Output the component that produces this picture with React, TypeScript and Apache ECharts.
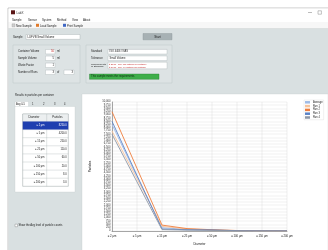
import React, { useEffect, useRef } from 'react';
import * as echarts from 'echarts';

const diameters = ['≥ 2 µm', '≥ 5 µm', '≥ 15 µm', '≥ 25 µm', '≥ 50 µm', '≥ 100 µm', '≥ 150 µm', '≥ 200 µm'];
const seriesNames = ['Average', 'Run 1', 'Run 2', 'Run 3', 'Run 4'];
const average = [8250, 4200, 250, 110, 60, 20, 8, 3];
const run1 = [7750, 4050, 350, 150, 70, 25, 10, 3];
const run2 = [9250, 4850, 450, 180, 90, 30, 15, 5];
const run3 = [8500, 4300, 150, 90, 80, 15, 6, 2];
const run4 = [7500, 3800, 100, 60, 40, 10, 5, 1];
const seriesColors = ['#9fbbe6', '#f7c39b', '#ee7d3c', '#5b83c6', '#8c96a6'];
const yMax = 10000;
const yInterval = 250;

const menuItems = ['Sample', 'Sensor', 'System', 'Method', 'View', 'About'];
const toolbarItems = ['New Sample', 'Load Sample', 'Print Sample'];
const tabs = ['Avg 0-5', '1', '2', '3', '4'];

const FONT = 'Liberation Sans';
const INK = '#1a1a1a';

function txt(x: number, y: number, text: string, size = 3, fill = INK, align = 'left', extra: any = {}) {
  return {
    type: 'text', x, y, z: 5,
    style: { text, fontSize: size, fontFamily: FONT, fill, align, verticalAlign: 'middle', ...extra },
  };
}
function rect(x: number, y: number, w: number, h: number, fill: string, stroke?: string, lw = 0.4, z = 1) {
  return {
    type: 'rect', z,
    shape: { x, y, width: w, height: h },
    style: { fill, stroke: stroke || null, lineWidth: lw },
  };
}
function line(x1: number, y1: number, x2: number, y2: number, stroke: string, lw = 0.4, z = 2) {
  return { type: 'line', z, shape: { x1, y1, x2, y2 }, style: { stroke, lineWidth: lw } };
}

export default function App() {
  const ref = useRef<HTMLDivElement>(null);
  useEffect(() => {
    if (!ref.current) return;
    const chart = echarts.init(ref.current, null, { renderer: 'svg' });
    const g: any[] = [];
    // page + window
    g.push(rect(0, 0, 328, 250, '#ffffff', undefined, 0, -10));
    g.push(rect(8, 8, 321, 243, '#f7f7f7', '#8d8d8d', 0.5, -9));
    // title bar
    g.push(rect(8.5, 8.5, 320, 8.5, '#ffffff', undefined, 0, -8));
    g.push(rect(11, 10.3, 4, 4, '#5a1515'));
    g.push(txt(16.5, 12.5, 'LabX', 3, '#333'));
    g.push(line(308, 12.5, 312, 12.5, '#555', 0.4));
    g.push(rect(318, 10.8, 3.4, 3.4, 'none', '#555', 0.35));
    // menu bar
    g.push(rect(8.5, 17, 320, 5, '#ffffff', undefined, 0, -8));
    const menuX = [12, 28, 42, 57, 72, 83];
    menuItems.forEach((m, i) => g.push(txt(menuX[i], 19.4, m, 2.8)));
    // toolbar
    g.push(rect(8.5, 22, 320, 6.5, '#f7f7f7', undefined, 0, -8));
    const tbIcon = ['#cfcfcf', '#e07a2a', '#3f67c4'];
    const tbX = [12, 36, 63];
    toolbarItems.forEach((t, i) => {
      g.push(rect(tbX[i], 23.8, 3, 3, tbIcon[i], i === 0 ? '#888' : undefined, 0.3));
      g.push(txt(tbX[i] + 4, 25.3, t, 2.8));
    });
    // body
    g.push(rect(8.5, 28.5, 320, 222, '#d9e0e1', undefined, 0, -8));
    g.push(line(8.5, 28.5, 328, 28.5, '#c9cfd0', 0.4, -7));
    // sample row
    g.push(txt(13, 37, 'Sample', 2.8));
    g.push(rect(26, 34.5, 54, 4.8, '#ffffff', '#9aa3a5', 0.35));
    g.push(txt(27.5, 37, 'LUFVB Small Volume', 2.8));
    g.push(rect(143, 33.5, 29, 6.3, '#a7b1b4', '#8a9597', 0.4));
    g.push(txt(157.5, 36.7, 'Start', 3, INK, 'center'));
    // group box 1
    g.push(rect(13, 45, 67, 38, '#dde3e4', '#b8c1c3', 0.4, 0));
    const g1Labels = ['Container Volume', 'Sample Volume', 'Waste Factor', 'Number of Runs'];
    const g1Vals = ['50', '5', '1', '3'];
    const g1Y = [51.7, 58.3, 65.3, 72.3];
    g1Labels.forEach((l, i) => {
      g.push(txt(18, g1Y[i], l, 2.7));
      g.push(rect(45.5, g1Y[i] - 2.2, 9.5, 4.4, '#ffffff', '#9aa3a5', 0.3));
      g.push(txt(54, g1Y[i], g1Vals[i], 2.7, i === 0 ? '#c02020' : INK, 'right'));
    });
    g.push(txt(57, g1Y[0], 'ml', 2.7));
    g.push(txt(57, g1Y[1], 'ml', 2.7));
    g.push(txt(57, g1Y[3], 'of', 2.7));
    g.push(rect(64, g1Y[3] - 2.2, 10, 4.4, '#ffffff', '#9aa3a5', 0.3));
    g.push(txt(73, g1Y[3], '3', 2.7, INK, 'right'));
    // group box 2
    g.push(rect(86, 45, 86, 38, '#dde3e4', '#b8c1c3', 0.4, 0));
    g.push(txt(91, 51.7, 'Standard', 2.7));
    g.push(rect(108, 49.4, 59, 4.6, '#ffffff', '#9aa3a5', 0.3));
    g.push(txt(109.5, 51.7, 'ISO 4406 / NAS', 2.6));
    g.push(txt(91, 58.3, 'Tolerance', 2.7));
    g.push(rect(108, 56, 59, 4.6, '#ffffff', '#9aa3a5', 0.3));
    g.push(txt(109.5, 58.3, 'Small Volume', 2.6));
    g.push(txt(91, 64, 'Requirements', 2.4));
    g.push(txt(91, 66.8, 'of Standard', 2.4));
    g.push(rect(108, 62.2, 59, 6.6, '#ffffff', '#9aa3a5', 0.3));
    g.push(txt(109, 64, '≥ 25 µm   max. 100 particles per container', 2, '#c02020'));
    g.push(txt(109, 67, '≥ 50 µm   max.  10 particles per container', 2, '#c02020'));
    g.push(rect(89.5, 74, 69.5, 5.3, '#3fae4a', '#2c7d35', 0.4));
    g.push(txt(91, 76.7, 'This sample meets the requirements', 2.7, '#0f2a12'));
    // results panel
    g.push(txt(15, 96, 'Results in particles per container', 2.7));
    g.push(rect(15, 101.5, 13.5, 5.5, '#ffffff', '#b8c1c3', 0.3));
    const tabX = [16, 32, 43, 54, 64];
    tabs.forEach((t, i) => g.push(txt(tabX[i], 104.2, t, 2.6)));
    g.push(rect(15, 106.5, 60, 85.5, '#ffffff', '#c0c8ca', 0.3));
    // table
    const tx = 22.7, tw = 45.6, split = 46.7, top = 114, hh = 7.5, rh = 8.1;
    g.push(rect(tx, top, tw, hh + rh * diameters.length, '#ffffff', '#7f8a8c', 0.4));
    g.push(rect(tx, top, tw, hh, '#eceff0', '#9aa3a5', 0.3));
    g.push(txt(34, top + hh / 2, 'Diameter', 2.7, INK, 'center'));
    g.push(txt(57.5, top + hh / 2, 'Particles', 2.7, INK, 'center'));
    g.push(line(split, top, split, top + hh + rh * diameters.length, '#9aa3a5', 0.3));
    diameters.forEach((d, i) => {
      const y0 = top + hh + rh * i;
      if (i === 0) g.push(rect(tx, y0, tw, rh, '#1f3fb0', undefined, 0, 3));
      else g.push(line(tx, y0, tx + tw, y0, '#9aa3a5', 0.3));
      const col = i === 0 ? '#ffffff' : INK;
      g.push(txt(44.5, y0 + rh / 2, d, 2.6, col, 'right'));
      g.push(txt(66.7, y0 + rh / 2, average[i].toFixed(1), 2.6, col, 'right'));
    });
    // checkbox
    g.push(rect(15, 224.2, 2.5, 2.5, '#ffffff', '#555', 0.3));
    g.push(txt(18.5, 225.5, 'Show the Avg level of particle counts', 2.7));
    // chart panel
    g.push(rect(82, 94, 246, 156.5, '#ffffff', '#c0c8ca', 0.3, -5));

    const data = [average, run1, run2, run3, run4];
    const option: any = {
      animation: false,
      textStyle: { fontFamily: FONT },
      graphic: g,
      legend: {
        orient: 'vertical',
        left: 304,
        top: 100,
        itemWidth: 5,
        itemHeight: 2.5,
        itemGap: 0.8,
        padding: [0.8, 1, 0.8, 1],
        borderColor: '#d0d0d0',
        borderWidth: 0.3,
        icon: 'rect',
        textStyle: { fontSize: 2.6, color: INK, padding: [0, 0, 0, -2] },
        data: seriesNames,
      },
      grid: { left: 112, right: 41, top: 102, bottom: 17, containLabel: false },
      xAxis: {
        type: 'category',
        data: diameters,
        boundaryGap: false,
        name: 'Diameter',
        nameLocation: 'middle',
        nameGap: 10.5,
        nameTextStyle: { fontSize: 3, color: INK },
        axisLine: { lineStyle: { color: '#555', width: 0.5 } },
        axisTick: { show: false },
        axisLabel: { fontSize: 2.8, color: INK, margin: 3.2, interval: 0 },
        splitLine: { show: true, lineStyle: { color: '#d4d4d4', width: 0.4 } },
      },
      yAxis: {
        type: 'value',
        min: 0,
        max: yMax,
        interval: yInterval,
        name: 'Particles',
        nameLocation: 'middle',
        nameGap: 18,
        nameRotate: 90,
        nameTextStyle: { fontSize: 3, color: INK },
        axisLine: { show: true, lineStyle: { color: '#555', width: 0.5 } },
        axisTick: { show: false },
        axisLabel: { fontSize: 2.7, color: '#2a2a2a', margin: 1.5 },
        splitLine: { show: true, lineStyle: { color: '#d9d9d9', width: 0.35 } },
      },
      series: seriesNames.map((n, i) => ({
        name: n,
        type: 'line',
        data: data[i],
        symbol: 'none',
        lineStyle: { color: seriesColors[i], width: 0.9 },
        itemStyle: { color: seriesColors[i] },
        z: 3,
      })),
    };
    chart.setOption(option);
    return () => chart.dispose();
  }, []);
  return <div ref={ref} style={{ position: 'fixed', left: 0, top: 0, width: 328, height: 250 }} />;
}
